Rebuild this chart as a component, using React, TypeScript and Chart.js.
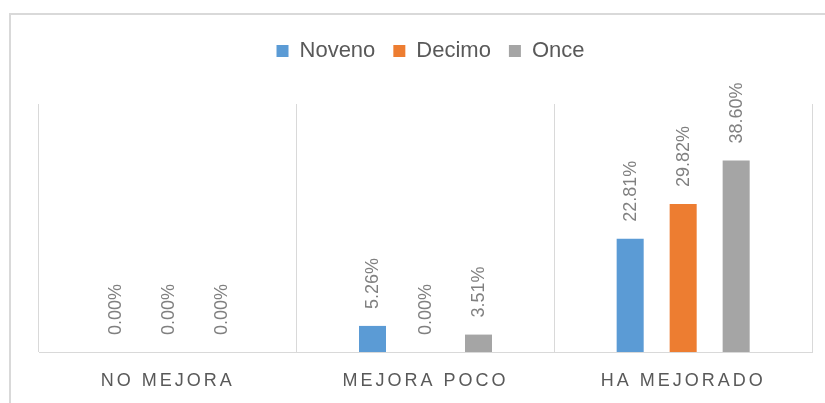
import React, { useEffect, useRef } from "react";
import { Chart, registerables } from "chart.js";

Chart.register(...registerables);

const categories = ["NO MEJORA", "MEJORA POCO", "HA MEJORADO"];
const seriesNames = ["Noveno", "Decimo", "Once"];
const noveno = [0, 0.0526, 0.2281];
const decimo = [0, 0, 0.2982];
const once = [0, 0.0351, 0.386];
const seriesColors = ["#5b9bd5", "#ed7d31", "#a5a5a5"];
const yMin = 0;
const yMax = 0.5;

const FONT = "'Liberation Sans', Arial, sans-serif";

const legendMargin = {
  id: "legendMargin",
  beforeInit(chart: any) {
    if (!chart.legend) return;
    const originalFit = chart.legend.fit;
    chart.legend.fit = function fit() {
      originalFit.bind(chart.legend)();
      this.height += 32;
    };
  },
  beforeDraw(chart: any) {
    if (chart.legend && !chart.legend.__shifted) {
      chart.legend.left += 5;
      chart.legend.right += 5;
      chart.legend.__shifted = true;
    }
  },
};

const dataLabels = {
  id: "dataLabels",
  afterDatasetsDraw(chart: any) {
    const ctx = chart.ctx;
    chart.data.datasets.forEach((ds: any, i: number) => {
      const meta = chart.getDatasetMeta(i);
      meta.data.forEach((bar: any, j: number) => {
        const v = ds.data[j];
        const label = (v * 100).toFixed(2) + "%";
        ctx.save();
        ctx.translate(bar.x, bar.y - 17);
        ctx.rotate(-Math.PI / 2);
        ctx.font = `18px ${FONT}`;
        ctx.fillStyle = "#808080";
        ctx.textAlign = "left";
        ctx.textBaseline = "middle";
        ctx.fillText(label, 0, 1);
        ctx.restore();
      });
    });
  },
};

const xLabels = {
  id: "xLabels",
  afterDraw(chart: any) {
    const ctx = chart.ctx;
    const xs = chart.scales.x;
    ctx.save();
    ctx.font = `18px ${FONT}`;
    ctx.fillStyle = "#595959";
    (ctx as any).letterSpacing = "3px";
    ctx.textAlign = "center";
    ctx.textBaseline = "middle";
    categories.forEach((c, i) => {
      const x = xs.getPixelForValue(i);
      ctx.fillText(c, x, chart.chartArea.bottom + 29);
    });
    ctx.restore();
  },
};

export default function App() {
  const ref = useRef<HTMLCanvasElement | null>(null);
  useEffect(() => {
    document.body.style.overflow = "hidden";
    const chart = new Chart(ref.current as HTMLCanvasElement, {
      type: "bar",
      data: {
        labels: categories,
        datasets: [noveno, decimo, once].map((d, i) => ({
          label: seriesNames[i],
          data: d,
          backgroundColor: seriesColors[i],
          borderWidth: 0,
          categoryPercentage: 0.617,
          barPercentage: 0.51,
        })),
      },
      options: {
        responsive: false,
        animation: false,
        layout: { padding: { top: 7, left: 28, right: 13, bottom: 51 } },
        plugins: {
          tooltip: { enabled: false },
          legend: {
            position: "top",
            align: "center",
            labels: {
              boxWidth: 12,
              boxHeight: 12,
              padding: 18,
              color: "#595959",
              font: { size: 22, family: FONT },
            },
          },
        },
        scales: {
          x: {
            grid: {
              offset: true,
              color: "#d9d9d9",
              lineWidth: 1,
              drawTicks: false,
            },
            border: { display: true, color: "#d9d9d9", width: 1 },
            ticks: { display: false },
          },
          y: {
            display: false,
            min: yMin,
            max: yMax,
          },
        },
      },
      plugins: [legendMargin, dataLabels, xLabels],
    });
    return () => chart.destroy();
  }, []);
  return (
    <div
      style={{
        position: "absolute",
        left: 9,
        top: 13,
        width: 816,
        height: 390,
        boxSizing: "border-box",
        borderTop: "2px solid #d9d9d9",
        borderLeft: "2px solid #d9d9d9",
        overflow: "hidden",
      }}
    >
      <canvas
        ref={ref}
        width={814}
        height={388}
        style={{ position: "absolute", left: 0, top: 0, width: 814, height: 388 }}
      />
    </div>
  );
}
